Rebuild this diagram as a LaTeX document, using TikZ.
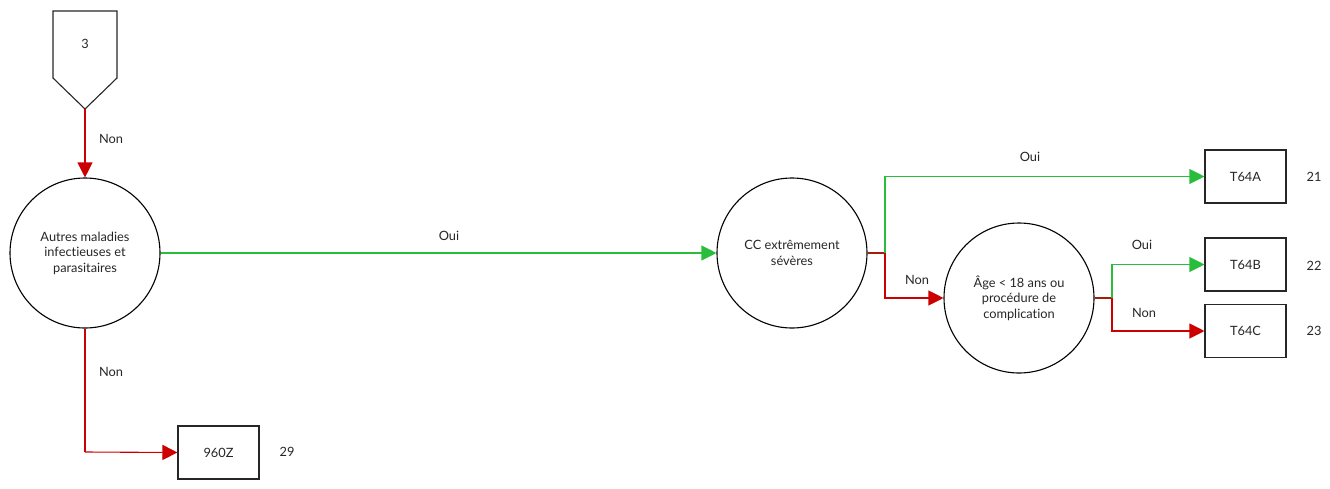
\documentclass[tikz,border=0pt]{standalone}
\usepackage{fontspec}
\setmainfont{Lato}[Ligatures={NoCommon}]
\usetikzlibrary{arrows.meta}
\definecolor{okgreen}{RGB}{40,190,60}
\definecolor{nored}{RGB}{204,0,0}
\definecolor{joinred}{RGB}{160,30,10}
\begin{document}
\begin{tikzpicture}[x=1pt,y=-1pt,
  every node/.style={font=\fontsize{12.8}{15.5}\selectfont, text=black!85},
  decision/.style={draw=black, line width=1.1pt, circle, minimum size=150pt, inner sep=0pt, align=center},
  result/.style={draw=black!85, line width=1.1pt, rectangle, minimum width=81pt, minimum height=53pt, inner sep=0pt},
  tip/.style={-{Triangle[length=15pt,width=15pt]}},
  yes/.style={draw=okgreen, line width=1.1pt, tip},
  no/.style={draw=nored, line width=1.1pt, tip},
  joinline/.style={draw=joinred, line width=1.1pt},
  lbl/.style={inner sep=0pt}
]
\useasboundingbox (0,0) rectangle (1330,488);
% off-page connector
\draw[line width=1.1pt, black!85] (53,11) -- (117,11) -- (117,78) -- (85,109) -- (53,78) -- cycle;
\node[lbl] (p3) at (85,44) {3};
\coordinate (p3tip) at (85,109);

\node[decision] (c1) at (85,253) {Autres maladies\\infectieuses et\\parasitaires};
\node[decision] (c2) at (792,253) {CC extrêmement\\sévères};
\node[decision] (c3) at (1019,298) {Âge < 18 ans ou\\procédure de\\complication};

\node[result] (b960) at (218.5,452.5) {960Z};
\node[result] (t64a) at (1245.5,176.5) {T64A};
\node[result] (t64b) at (1245.5,264.5) {T64B};
\node[result] (t64c) at (1245.5,331) {T64C};

\node[lbl] (n29) at (287,452) {29};
\node[lbl] (n21) at (1314,177) {21};
\node[lbl] (n22) at (1314,266) {22};
\node[lbl] (n23) at (1314,331) {23};

\coordinate (j1) at (885,253);
\coordinate (j2) at (1112,298);
\coordinate (k1) at (85,452);

\draw[no] (p3tip) -- (c1.north);
\node[lbl] (l1) at (111,139) {Non};

\draw[yes] (c1.east) -- (c2.west);
\node[lbl] (l2) at (449,236) {Oui};

\draw[draw=nored, line width=1.1pt] (c1.south) -- (k1);
\draw[no] (k1) -- (b960.west);
\node[lbl] (l3) at (111,372) {Non};

\draw[joinline] (c2.east) -- (j1);
\draw[yes] (j1) |- (t64a.west);
\draw[no] (j1) |- (c3.west);
\node[lbl] (l4) at (1030,157) {Oui};
\node[lbl] (l5) at (917,280) {Non};

\draw[joinline] (c3.east) -- (j2);
\draw[yes] (j2) |- (t64b.west);
\draw[no] (j2) |- (t64c.west);
\node[lbl] (l6) at (1142,245) {Oui};
\node[lbl] (l7) at (1144,313) {Non};
\end{tikzpicture}
\end{document}
